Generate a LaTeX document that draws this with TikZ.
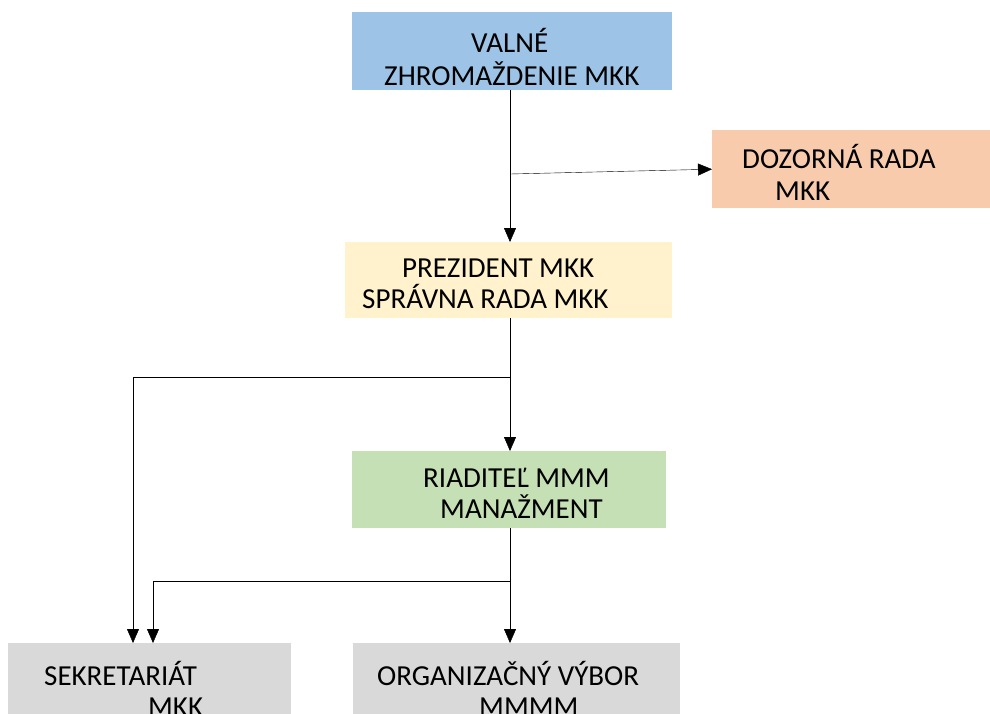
\documentclass[tikz,border=0pt]{standalone}
\usepackage{fontspec}
\setmainfont{Carlito}
\usepackage{tikz}
\usetikzlibrary{
        arrows.meta,
        positioning
    }
\definecolor{blueb}{HTML}{9DC3E6}
\definecolor{orangeb}{HTML}{F8CBAD}
\definecolor{yellowb}{HTML}{FFF2CC}
\definecolor{greenb}{HTML}{C5E0B4}
\definecolor{greyb}{HTML}{D9D9D9}
\tikzset{>={Triangle[length=14pt,width=12pt]},line width=1pt}
\tikzset{box/.style={rectangle,anchor=north west,inner sep=0pt,draw=none}}
\tikzset{txt/.style={anchor=base west,inner sep=0pt,font=\fontsize{29}{34}\selectfont}}

\begin{document}
\begin{tikzpicture}[x=1pt,y=-1pt]
            \useasboundingbox (0,0) rectangle (990,713);
            % boxes
            \node[box,fill=blueb,minimum width=320pt,minimum height=78pt] (valne) at (352,12) {};
            \node[box,fill=orangeb,minimum width=278pt,minimum height=78pt] (dozor) at (712,130) {};
            \node[box,fill=yellowb,minimum width=327pt,minimum height=76pt] (prez) at (345,242) {};
            \node[box,fill=greenb,minimum width=314pt,minimum height=77pt] (riad) at (352,451) {};
            \node[box,fill=greyb,minimum width=283pt,minimum height=80pt] (sekr) at (8,643) {};
            \node[box,fill=greyb,minimum width=327pt,minimum height=80pt] (org) at (353,643) {};
            % texts
            \node[txt] (valne1) at (471,52) {VALNÉ};
            \node[txt] (valne2) at (384,85) {ZHROMAŽDENIE MKK};
            \node[txt] (dozor1) at (742,168) {DOZORNÁ RADA};
            \node[txt] (dozor2) at (775,200) {MKK};
            \node[txt] (prez1) at (402,277) {PREZIDENT MKK};
            \node[txt] (prez2) at (362,308) {SPRÁVNA RADA MKK};
            \node[txt] (riad1) at (423,487) {RIADITEĽ MMM};
            \node[txt] (riad2) at (440,518) {MANAŽMENT};
            \node[txt] (sekr1) at (44,685) {SEKRETARIÁT};
            \node[txt] (sekr2) at (148,716) {MKK};
            \node[txt] (org1) at (377,685) {ORGANIZAČNÝ VÝBOR};
            \node[txt] (org2) at (479,716) {MMMM};
            % branch points
            \coordinate (j1) at (510,174);
            \coordinate (j2) at (510,377);
            \coordinate (j3) at (510,581);
            \coordinate (s1) at (133,643);
            \coordinate (s2) at (153,643);
            % connectors
            \draw[->] (valne.south -| j1) -- (prez.north -| j1);
            \draw[->] (j1) -- (dozor.west);
            \draw[->] (prez.south -| j2) -- (riad.north -| j2);
            \draw[->] (j2) -| (s1);
            \draw[->] (riad.south -| j3) -- (org.north -| j3);
            \draw[->] (j3) -| (s2);
        \end{tikzpicture}
\end{document}
